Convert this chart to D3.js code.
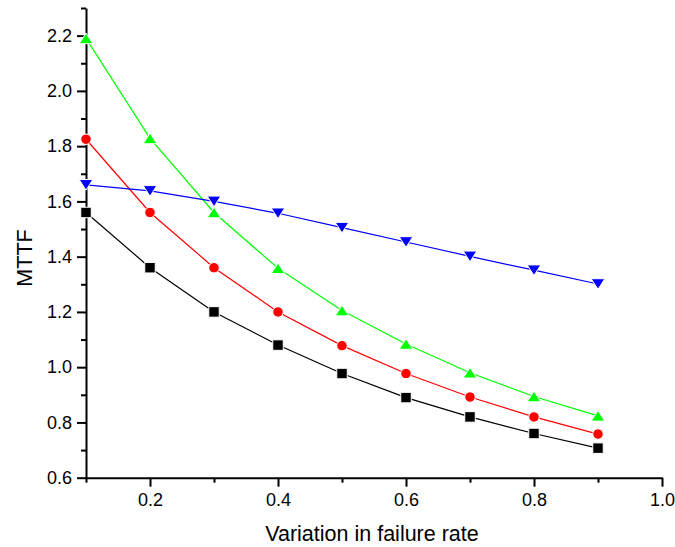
<!DOCTYPE html>
<html>
<meta charset="utf-8">
<head>
  <title>MTTF vs variation in failure rate</title>
</head>

<style>
body {
  margin: 0;
  background: white;
}
text {
  font-family: Arial, "Liberation Sans", Helvetica, sans-serif;
  fill: black;
}
.axis path, .axis line {
  stroke: black;
  stroke-width: 2px;
}
.axis text {
  font-size: 18px;
}
.title {
  font-size: 21.5px;
}
</style>

<body>
  <div id="chart"></div>

  <script src="https://d3js.org/d3.v7.min.js"></script>
  <script>

var variation = [0.1, 0.2, 0.3, 0.4, 0.5, 0.6, 0.7, 0.8, 0.9];

var seriesBlack = [1.56, 1.36, 1.20, 1.08, 0.977, 0.89, 0.82, 0.76, 0.707];
var seriesRed   = [1.825, 1.56, 1.36, 1.20, 1.078, 0.977, 0.892, 0.82, 0.758];
var seriesGreen = [2.19, 1.828, 1.56, 1.358, 1.205, 1.084, 0.98, 0.894, 0.824];
var seriesBlue  = [1.66, 1.638, 1.60, 1.557, 1.505, 1.453, 1.401, 1.351, 1.301];

var xTicks = [0.2, 0.4, 0.6, 0.8, 1.0];
var xMinor = [0.1, 0.3, 0.5, 0.7, 0.9];
var yTicks = [0.6, 0.8, 1.0, 1.2, 1.4, 1.6, 1.8, 2.0, 2.2];
var yMinor = [0.7, 0.9, 1.1, 1.3, 1.5, 1.7, 1.9, 2.1, 2.3];

// flat triangles, like the Origin markers (width sqrt(size), height 0.78 of it)
var triUp = {
  draw: function(ctx, size) {
    var w = Math.sqrt(size), h = w * 0.78;
    ctx.moveTo(0, -h / 2);
    ctx.lineTo(w / 2, h / 2);
    ctx.lineTo(-w / 2, h / 2);
    ctx.closePath();
  }
};
var triDown = {
  draw: function(ctx, size) {
    var w = Math.sqrt(size), h = w * 0.78;
    ctx.moveTo(0, h / 2);
    ctx.lineTo(w / 2, -h / 2);
    ctx.lineTo(-w / 2, -h / 2);
    ctx.closePath();
  }
};

var series = [
  {values: seriesBlack, color: '#000000', symbol: d3.symbolSquare, size: 110},
  {values: seriesRed, color: '#ff0000', symbol: d3.symbolCircle, size: 86},
  {values: seriesGreen, color: '#00ff00', symbol: triUp, size: 185},
  {values: seriesBlue, color: '#0000ff', symbol: triDown, size: 185}
];

var width = 675, height = 547;

var svg = d3.select('#chart')
  .append('svg')
  .attr('width', width)
  .attr('height', height);

var x = d3.scaleLinear().domain([0.1, 1.0]).range([86, 662]);
var y = d3.scaleLinear().domain([0.6, 2.3]).range([477.7, 8]);

// minor ticks first
svg.append('g')
  .attr('class', 'axis')
  .attr('transform', 'translate(0,477.7)')
  .call(d3.axisBottom(x).tickValues(xMinor).tickSize(5).tickFormat(''))
  .select('.domain').remove();

svg.append('g')
  .attr('class', 'axis')
  .attr('transform', 'translate(86,0)')
  .call(d3.axisLeft(y).tickValues(yMinor).tickSize(5).tickFormat(''))
  .select('.domain').remove();

// major ticks
var xAxis = svg.append('g')
  .attr('class', 'axis')
  .attr('transform', 'translate(0,477.7)')
  .call(d3.axisBottom(x).tickValues(xTicks).tickSize(9).tickSizeOuter(0).tickPadding(7)
    .tickFormat(d3.format('.1f')));

var yAxis = svg.append('g')
  .attr('class', 'axis')
  .attr('transform', 'translate(86,0)')
  .call(d3.axisLeft(y).tickValues(yTicks).tickSize(9).tickSizeOuter(0).tickPadding(5)
    .tickFormat(d3.format('.1f')));

xAxis.selectAll('text').attr('font-family', null).attr('font-size', null);
yAxis.selectAll('text').attr('font-family', null).attr('font-size', null);

// Lines and markers
var line = d3.line()
  .x(function(d, i) { return x(variation[i]); })
  .y(function(d) { return y(d); });

series.forEach(function(s) {
  svg.append('path')
    .datum(s.values)
    .attr('d', line)
    .attr('fill', 'none')
    .attr('stroke', s.color)
    .attr('stroke-width', 1.2);
});

series.forEach(function(s) {
  var sym = d3.symbol().type(s.symbol).size(s.size);
  svg.append('g')
    .selectAll('path')
    .data(s.values)
    .enter()
    .append('path')
    .attr('d', sym)
    .attr('transform', function(d, i) {
      return 'translate(' + x(variation[i]) + ',' + y(d) + ')';
    })
    .attr('fill', s.color)
    .attr('stroke', 'white')
    .attr('stroke-width', 1);
});

// Axis titles
svg.append('text')
  .attr('class', 'title')
  .attr('x', 372)
  .attr('y', 541)
  .attr('text-anchor', 'middle')
  .text('Variation in failure rate');

svg.append('text')
  .attr('class', 'title')
  .attr('transform', 'translate(32,258) rotate(-90)')
  .attr('text-anchor', 'middle')
  .text('MTTF');

  </script>
</body>
</html>
